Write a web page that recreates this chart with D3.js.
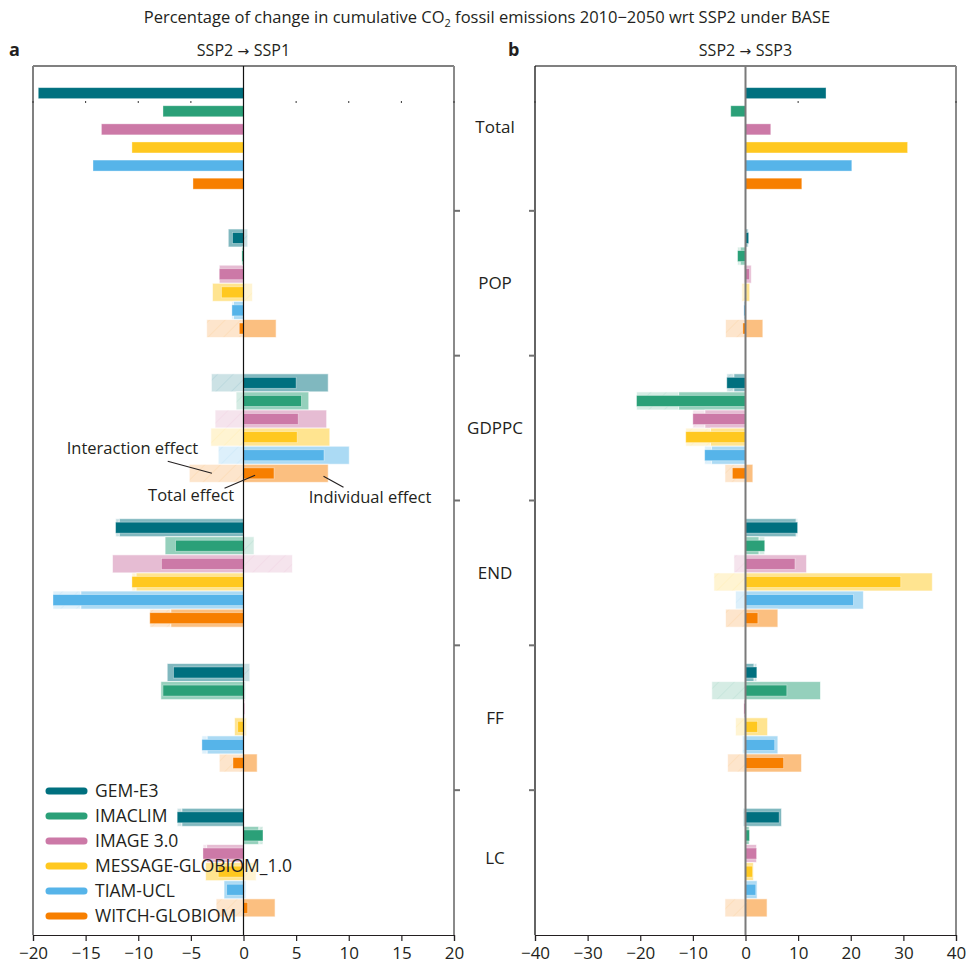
<!DOCTYPE html>
<html>
<head>
<meta charset="utf-8">
<script src="https://cdn.jsdelivr.net/npm/d3@7"></script>
<style>
  body { margin: 0; background: #fff; }
  text { font-family: "Open Sans", "Noto Sans", sans-serif; fill: #231f20; }
</style>
</head>
<body>
<svg id="chart" width="968" height="967"></svg>
<script>
// ---- data -------------------------------------------------------------
const models = ["GEM-E3", "IMACLIM", "IMAGE 3.0", "MESSAGE-GLOBIOM_1.0", "TIAM-UCL", "WITCH-GLOBIOM"];
const colors = ["#00707f", "#2ba078", "#cc79a7", "#ffc820", "#56b4e9", "#f77f00"];
const factors = ["POP", "GDPPC", "END", "FF", "LC"];
const categories = ["Total", "POP", "GDPPC", "END", "FF", "LC"];

// SSP2 -> SSP1 : overall change per model
const ssp1Total = [-19.5, -7.65, -13.5, -10.6, -14.3, -4.8];
// individual effect per factor (rows follow `factors`, columns follow `models`)
const ssp1Individual = [
  [-1.45, -0.15, -2.3, -2.95, -0.95, 3.1],
  [8.05, 6.2, 7.9, 8.2, 10.05, 8.05],
  [-11.8, -7.45, -12.45, -10.2, -15.45, -6.9],
  [-7.25, -7.85, 0.1, -0.85, -3.45, 1.3],
  [-5.85, 1.45, -3.5, -3.6, -1.85, 3.0]
];
// interaction effect per factor
const ssp1Interaction = [
  [0.4, 0, 0, 0.85, -0.15, -3.5],
  [-3.05, -0.7, -2.7, -3.1, -2.4, -5.15],
  [-0.35, 1.0, 4.65, -0.4, -2.65, -2.0],
  [0.6, 0.2, 0, 0.3, -0.5, -2.3],
  [-0.45, 0.4, -0.35, 1.2, 0.25, -2.6]
];

// SSP2 -> SSP3
const ssp3Total = [15.3, -2.8, 4.8, 30.8, 20.2, 10.7];
const ssp3Individual = [
  [0.45, -1.0, 1.1, 0.8, -0.3, 3.3],
  [-2.2, -12.7, -7.7, -6.65, -6.45, 1.4],
  [9.6, 2.55, 11.6, 35.5, 22.4, 6.15],
  [1.6, 14.25, -0.3, 4.2, 6.15, 10.65],
  [6.85, 0.7, 2.1, 1.5, 2.2, 4.1]
];
const ssp3Interaction = [
  [0.15, -0.5, -0.35, -0.7, 0, -3.8],
  [-1.35, -8.0, -2.3, -4.7, -1.3, -3.9],
  [0.3, 1.1, -2.2, -6.0, -1.9, -3.8],
  [0.55, -6.4, 0, -1.9, -0.6, -3.4],
  [-0.45, 0.05, 0, -0.15, -0.25, -3.9]
];

const ssp1Ticks = [-20, -15, -10, -5, 0, 5, 10, 15, 20];
const ssp3Ticks = [-40, -30, -20, -10, 0, 10, 20, 30, 40];

// ---- layout -----------------------------------------------------------
const svg = d3.select("#chart");
const plotTop = 66, plotBottom = 935;
const minus = s => String(s).replace("-", "\u2212");

const yCat = d3.scaleBand().domain(categories).range([plotTop, plotBottom]).padding(0);
const yModel = d3.scaleBand().domain(models).range([0, yCat.bandwidth()])
  .paddingInner(0).paddingOuter(1);
const wideH = 18, narrowH = 11;

const tint = (c, t) => d3.interpolateRgb("#ffffff", c)(t);

// diagonal hatch used for interaction effects
const defs = svg.append("defs");
colors.forEach((c, i) => {
  const p = defs.append("pattern")
    .attr("id", "hatch" + i)
    .attr("patternUnits", "userSpaceOnUse")
    .attr("width", 11).attr("height", 11)
    .attr("patternTransform", "rotate(45)");
  p.append("rect").attr("width", 11).attr("height", 11).attr("fill", tint(c, 0.2));
  p.append("line").attr("x1", 0).attr("y1", 0).attr("x2", 0).attr("y2", 11)
    .attr("stroke", c).attr("stroke-opacity", 0.13).attr("stroke-width", 1.2);
});

// title
const title = svg.append("text")
  .attr("x", 487).attr("y", 23)
  .attr("text-anchor", "middle")
  .style("font-size", "16.5px");
title.append("tspan").text("Percentage of change in cumulative CO");
title.append("tspan").attr("dy", 4).style("font-size", "11px").text("2");
title.append("tspan").attr("dy", -4).text(" fossil emissions 2010\u22122050 wrt SSP2 under BASE");

function drawPanel(opt) {
  const x = d3.scaleLinear().domain(opt.domain).range(opt.range);
  const g = svg.append("g");

  // panel letter + heading
  g.append("text").attr("x", opt.letterX).attr("y", 56)
    .style("font-size", "18px").style("font-weight", "bold").text(opt.letter);
  const head = g.append("text").attr("x", (opt.range[0] + opt.range[1]) / 2).attr("y", 56)
    .attr("text-anchor", "middle").style("font-size", "16px");
  head.append("tspan").text(opt.heading[0]);
  head.append("tspan").style("font-family", '"DejaVu Sans", sans-serif')
    .style("font-size", "14px").text(" \u2192 ");
  head.append("tspan").text(opt.heading[1]);

  // bar records
  const rows = [];
  models.forEach((m, i) => {
    rows.push({ cat: "Total", i, total: opt.total[i] });
  });
  factors.forEach((f, j) => {
    models.forEach((m, i) => {
      const ind = opt.individual[j][i];
      const inter = opt.interaction[j][i];
      const same = Math.sign(ind) === Math.sign(inter);
      rows.push({
        cat: f, i, ind, inter,
        interFrom: same ? ind : 0,
        interTo: same ? ind + inter : inter,
        total: ind + inter
      });
    });
  });
  const yc = d => yCat(d.cat) + yModel(models[d.i]) + yModel.bandwidth() / 2;
  const span = (a, b) => ({ x: x(Math.min(a, b)), w: Math.abs(x(b) - x(a)) });
  const effects = rows.filter(d => d.cat !== "Total");

  // interaction effect (palest, hatched)
  g.append("g").selectAll("rect").data(effects.filter(d => d.inter !== 0)).join("rect")
    .attr("x", d => span(d.interFrom, d.interTo).x)
    .attr("width", d => span(d.interFrom, d.interTo).w)
    .attr("y", d => yc(d) - wideH / 2).attr("height", wideH)
    .attr("fill", d => `url(#hatch${d.i})`)
    .attr("stroke", "#fff").attr("stroke-opacity", 0.6).attr("stroke-width", 1);

  // individual effect
  g.append("g").selectAll("rect").data(effects).join("rect")
    .attr("x", d => span(0, d.ind).x)
    .attr("width", d => span(0, d.ind).w)
    .attr("y", d => yc(d) - wideH / 2).attr("height", wideH)
    .attr("fill", d => tint(colors[d.i], 0.5))
    .attr("stroke", "#fff").attr("stroke-opacity", 0.6).attr("stroke-width", 1);

  // total effect
  g.append("g").selectAll("rect").data(rows).join("rect")
    .attr("x", d => span(0, d.total).x)
    .attr("width", d => span(0, d.total).w)
    .attr("y", d => yc(d) - narrowH / 2).attr("height", narrowH)
    .attr("fill", d => colors[d.i])
    .attr("stroke", "#fff").attr("stroke-opacity", 0.45).attr("stroke-width", 0.8);

  // frame
  const [xl, xr] = opt.range;
  g.append("line").attr("x1", xl).attr("x2", xr).attr("y1", plotTop).attr("y2", plotTop)
    .attr("stroke", "#808080").attr("stroke-width", 2);
  g.append("line").attr("x1", xl).attr("x2", xl).attr("y1", plotTop).attr("y2", plotBottom)
    .attr("stroke", opt.leftColor).attr("stroke-width", opt.leftWidth);
  g.append("line").attr("x1", xr).attr("x2", xr).attr("y1", plotTop).attr("y2", plotBottom)
    .attr("stroke", "#8a8a8a").attr("stroke-width", 2);

  // category separators on the inner side
  const sepX = opt.sepSide === "right" ? xr : xl;
  const sepDir = opt.sepSide === "right" ? 1 : -1;
  g.append("g").selectAll("line").data(categories.slice(1)).join("line")
    .attr("x1", sepX).attr("x2", sepX + sepDir * 6)
    .attr("y1", d => yCat(d)).attr("y2", d => yCat(d))
    .attr("stroke", "#707070").attr("stroke-width", 2);

  // faint tick marks along the first row
  g.append("g").selectAll("line").data(opt.minorTicks).join("line")
    .attr("x1", d => x(d)).attr("x2", d => x(d))
    .attr("y1", yCat("Total") + 35).attr("y2", yCat("Total") + 37)
    .attr("stroke", "#333").attr("stroke-width", 1);

  // zero line
  g.append("line").attr("x1", x(0)).attr("x2", x(0))
    .attr("y1", plotTop).attr("y2", plotBottom)
    .attr("stroke", opt.zeroColor).attr("stroke-width", opt.zeroWidth);

  // bottom axis
  const ax = g.append("g").attr("transform", `translate(0,${plotBottom})`)
    .call(d3.axisBottom(x).tickValues(opt.ticks).tickSize(6).tickPadding(6)
      .tickFormat(d => minus(d)));
  ax.select(".domain").attr("stroke", "#231f20").attr("stroke-width", 1.2);
  ax.selectAll(".tick line").attr("stroke", "#231f20").attr("stroke-width", 1.2);
  ax.selectAll(".tick text").style("font-size", "17px")
    .style("font-family", '"Open Sans", sans-serif').attr("fill", "#231f20");

  return { x, yc };
}

const a = drawPanel({
  letter: "a", letterX: 9, heading: ["SSP2", "SSP1"],
  domain: [-20, 20], range: [33, 454], ticks: ssp1Ticks,
  total: ssp1Total, individual: ssp1Individual, interaction: ssp1Interaction,
  leftColor: "#808080", leftWidth: 2, sepSide: "right",
  zeroColor: "#111", zeroWidth: 1.2, minorTicks: ssp1Ticks
});
const b = drawPanel({
  letter: "b", letterX: 508, heading: ["SSP2", "SSP3"],
  domain: [-40, 40], range: [535, 956], ticks: ssp3Ticks,
  total: ssp3Total, individual: ssp3Individual, interaction: ssp3Interaction,
  leftColor: "#111", leftWidth: 1.3, sepSide: "left",
  zeroColor: "#7a7a7a", zeroWidth: 2, minorTicks: [-40, 10, 40]
});

// category names between the panels (Total and LC sit slightly above centre)
const labelNudge = { Total: -11, LC: -5 };
svg.append("g").selectAll("text").data(categories).join("text")
  .attr("x", 495)
  .attr("y", d => yCat(d) + yCat.bandwidth() / 2 + (labelNudge[d] || 0))
  .attr("dy", "0.35em")
  .attr("text-anchor", "middle")
  .style("font-size", "17px")
  .text(d => d);

// explanatory callouts on the GDPPC row of WITCH-GLOBIOM (panel a)
const refRow = { cat: "GDPPC", i: 5 };
const cy = a.yc(refRow);
const note = svg.append("g").attr("fill", "none");
const callouts = [
  { text: "Interaction effect", anchor: "end", tx: -4.3, ty: -19, l: [-7.2, -12, -3.0, 0] },
  { text: "Total effect", anchor: "end", tx: -0.9, ty: 28, l: [-1.8, 15, 1.1, 2] },
  { text: "Individual effect", anchor: "start", tx: 6.2, ty: 30, l: [7.6, 3, 9.5, 14] }
];
callouts.forEach(c => {
  note.append("line")
    .attr("x1", a.x(c.l[0])).attr("y1", cy + c.l[1])
    .attr("x2", a.x(c.l[2])).attr("y2", cy + c.l[3])
    .attr("stroke", "#231f20").attr("stroke-width", 1.1);
  svg.append("text")
    .attr("x", a.x(c.tx)).attr("y", cy + c.ty)
    .attr("text-anchor", c.anchor)
    .style("font-size", "16.5px")
    .text(c.text);
});

// legend
const legend = svg.append("g").attr("transform", "translate(46,791)");
const li = legend.selectAll("g").data(models).join("g")
  .attr("transform", (d, i) => `translate(0,${i * 25})`);
li.append("line").attr("x1", 3).attr("x2", 38).attr("y1", 0).attr("y2", 0)
  .attr("stroke", (d, i) => colors[i]).attr("stroke-width", 7).attr("stroke-linecap", "round");
li.append("text").attr("x", 49).attr("y", 0).attr("dy", "0.35em")
  .style("font-size", "17.5px").text(d => d);
</script>
</body>
</html>
